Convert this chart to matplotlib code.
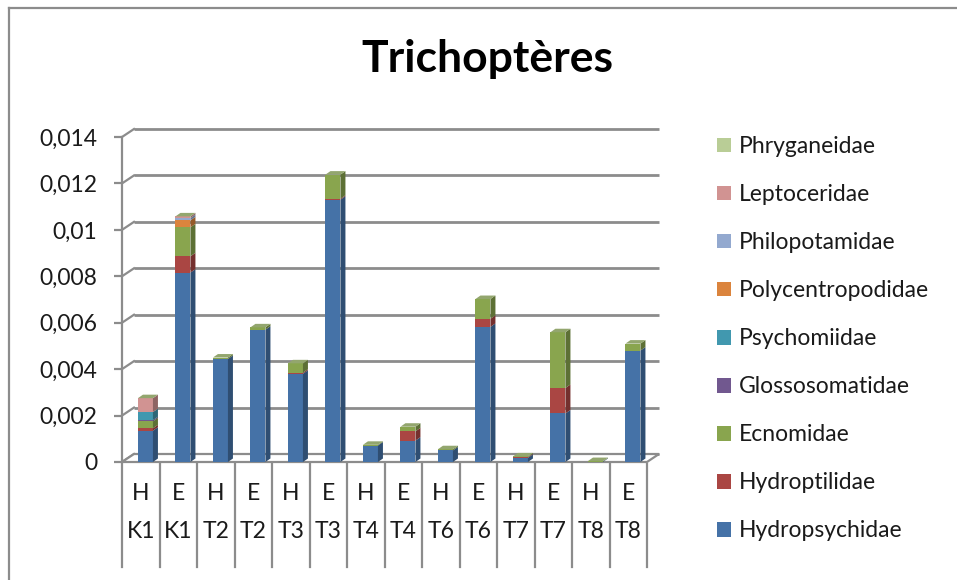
import numpy as np
import matplotlib
matplotlib.use('Agg')
from matplotlib import pyplot as plt
from matplotlib.patches import Polygon
from matplotlib import transforms

plt.rcParams['font.family'] = ['Lato', 'DejaVu Sans']

# categories (inner / outer level)
sampling = ['H', 'E', 'H', 'E', 'H', 'E', 'H', 'E', 'H', 'E', 'H', 'E', 'H', 'E']
stations = ['K1', 'K1', 'T2', 'T2', 'T3', 'T3', 'T4', 'T4', 'T6', 'T6', 'T7', 'T7', 'T8', 'T8']

# series, bottom of the stack first
hydropsychidae = [0.00135, 0.00816, 0.00444, 0.0057, 0.0038, 0.0113, 0.00071, 0.00092, 0.0005, 0.00582, 0.00018, 0.00209, 0.00002, 0.0048]
hydroptilidae = [0.0001, 0.0007, 0, 0, 0.00005, 0.00004, 0, 0.0004, 0, 0.00035, 0.00003, 0.0011, 0, 0]
ecnomidae = [0.0003, 0.00125, 0.00006, 0.0001, 0.0004, 0.00104, 0.00003, 0.0002, 0.00005, 0.00085, 0.00003, 0.0024, 0.00002, 0.0003]
glossosomatidae = [0.00005, 0, 0, 0, 0, 0, 0, 0, 0, 0, 0, 0, 0, 0]
psychomiidae = [0.00035, 0, 0, 0, 0, 0, 0, 0, 0, 0, 0, 0, 0, 0]
polycentropodidae = [0, 0.0003, 0, 0, 0, 0, 0, 0, 0, 0, 0, 0, 0, 0]
philopotamidae = [0, 0.0001, 0, 0, 0, 0, 0, 0, 0, 0, 0, 0, 0, 0]
leptoceridae = [0.0006, 0.00007, 0, 0, 0, 0, 0, 0, 0, 0, 0, 0, 0, 0]
phryganeidae = [0, 0, 0, 0, 0, 0, 0, 0, 0, 0, 0, 0, 0, 0]

names = ['Hydropsychidae', 'Hydroptilidae', 'Ecnomidae', 'Glossosomatidae', 'Psychomiidae',
         'Polycentropodidae', 'Philopotamidae', 'Leptoceridae', 'Phryganeidae']
series = [hydropsychidae, hydroptilidae, ecnomidae, glossosomatidae, psychomiidae,
          polycentropodidae, philopotamidae, leptoceridae, phryganeidae]
colors = ['#4572A7', '#AA4643', '#89A54E', '#71588F', '#4198AF',
          '#DB843D', '#93A9CF', '#D19392', '#B9CD96']

yticks = [0, 0.002, 0.004, 0.006, 0.008, 0.01, 0.012, 0.014]
grid_c = '#8c8c8c'
txt_c = '#1a1a1a'
fs = 16.5

W, H = 957, 580
fig = plt.figure(figsize=(W / 100, H / 100), dpi=100)
ax = fig.add_axes([122 / W, 118 / H, 525 / W, 325 / H])
n = len(sampling)
ax.set_xlim(-0.5, n - 0.5)
ax.set_ylim(0, 0.014)

# depth of the 3D box, in data units (12 px right, 8 px up)
px_x = n / 525
px_y = 0.014 / 325
ddx, ddy = 12 * px_x, 8 * px_y

for s in ['top', 'right', 'bottom']:
    ax.spines[s].set_visible(False)
ax.spines['left'].set_color(grid_c)
ax.spines['left'].set_linewidth(1.6)
ax.set_xticks([])
ax.set_yticks(yticks)
ax.set_yticklabels([('%g' % v).replace('.', ',') for v in yticks])
ax.tick_params(axis='y', length=6, width=1.6, color=grid_c, labelsize=fs,
               labelcolor=txt_c, pad=12)

# back wall gridlines and the small diagonals to the front axis
for v in yticks:
    ax.plot([-0.5 + ddx, n - 0.5 + ddx], [v + ddy, v + ddy], color=grid_c, lw=2,
            zorder=1, clip_on=False, solid_capstyle='butt')
    ax.plot([-0.5, -0.5 + ddx], [v, v + ddy], color=grid_c, lw=1.6, zorder=1, clip_on=False)

# floor
floor = Polygon([(-0.5, 0), (n - 0.5, 0), (n - 0.5 + ddx, ddy), (-0.5 + ddx, ddy)],
                closed=True, facecolor='white', edgecolor=grid_c, lw=1.6, zorder=1.5,
                clip_on=False)
ax.add_patch(floor)

# stacked bars with side and top faces
x = np.arange(n) + 0.125
w = 0.4
bdx, bdy = 5 * px_x, 3.5 * px_y
bottom = np.zeros(n)
handles = []
for name, vals, c in zip(names, series, colors):
    vals = np.array(vals, dtype=float)
    bars = ax.bar(x, vals, w, bottom=bottom, color=c, label=name, zorder=3, clip_on=False)
    handles.append(bars)
    side_c = tuple(np.array(matplotlib.colors.to_rgb(c)) * 0.68)
    for xi, b, v in zip(x, bottom, vals):
        if v <= 0:
            continue
        xr = xi + w / 2
        ax.add_patch(Polygon([(xr, b), (xr, b + v), (xr + bdx, b + v + bdy), (xr + bdx, b + bdy)],
                             closed=True, facecolor=side_c, edgecolor='none', zorder=3,
                             clip_on=False))
    bottom = bottom + vals

top_c = '#93A66E'
for xi, t in zip(x, bottom):
    ax.add_patch(Polygon([(xi - w / 2, t), (xi + w / 2, t), (xi + w / 2 + bdx, t + bdy),
                          (xi - w / 2 + bdx, t + bdy)],
                         closed=True, facecolor=top_c, edgecolor='none', zorder=4, clip_on=False))

# two-level category axis
tr = transforms.blended_transform_factory(ax.transData, fig.transFigure)
for k in range(n + 1):
    ax.plot([k - 0.5, k - 0.5], [1 - 464 / H, 1 - 567 / H], transform=tr, color=grid_c,
            lw=1.6, clip_on=False)
for k in range(n):
    ax.text(k, 1 - 493 / H, sampling[k], transform=tr, ha='center', va='center',
            fontsize=fs, color=txt_c)
    ax.text(k, 1 - 531 / H, stations[k], transform=tr, ha='center', va='center',
            fontsize=fs, color=txt_c)

fig.text(487 / W, 1 - 72 / H, 'Trichoptères', ha='center', va='baseline', fontsize=32,
         fontweight='bold', color='black')

leg = fig.legend(handles=handles[::-1], labels=names[::-1], loc='upper left',
                 bbox_to_anchor=(717 / W, 1 - 136 / H), frameon=False, fontsize=fs,
                 handlelength=0.62, handleheight=0.62, handletextpad=0.32, labelspacing=1.18,
                 borderpad=0, borderaxespad=0)
for t in leg.get_texts():
    t.set_color(txt_c)

# chart border
fig.add_artist(plt.Line2D([9 / W, 9 / W], [0, 1 - 8 / H], color='#8c8c8c', lw=1.6))
fig.add_artist(plt.Line2D([9 / W, 1], [1 - 8 / H, 1 - 8 / H], color='#8c8c8c', lw=1.6))

fig.savefig('out.png', dpi=100)
